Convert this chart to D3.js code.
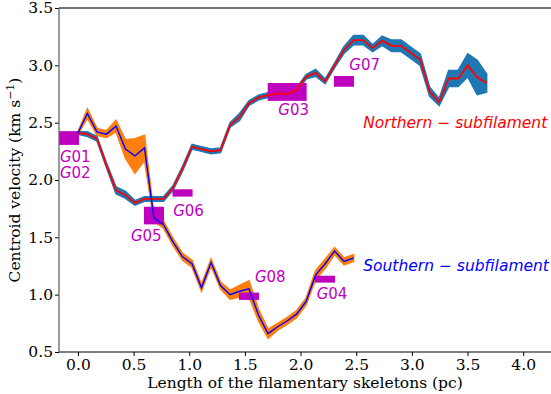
<!DOCTYPE html>
<html lang="en">
<head>
<meta charset="utf-8">
<title>Centroid velocity along the skeletons</title>
<script src="https://d3js.org/d3.v7.min.js"></script>
<style>
  body { margin: 0; background: #fff; }
  .tick text { font-family: "DejaVu Serif", serif; font-size: 15.5px; fill: #000; }
</style>
</head>
<body>
<script>
// southern sub-filament: position, centroid velocity, band half-width
const southX = [0.000, 0.085, 0.171, 0.256, 0.342, 0.427, 0.512, 0.598, 0.683, 0.769, 0.854, 0.940, 1.025, 1.110, 1.196,
                1.281, 1.367, 1.452, 1.537, 1.623, 1.708, 1.794, 1.879, 1.964, 2.050, 2.135, 2.221, 2.306, 2.391, 2.477];
const southV = [2.41, 2.58, 2.42, 2.40, 2.47, 2.27, 2.21, 2.28, 1.67, 1.61, 1.46, 1.33, 1.27, 1.06, 1.28,
                1.08, 1.00, 1.03, 1.05, 0.82, 0.66, 0.72, 0.77, 0.83, 0.94, 1.17, 1.27, 1.38, 1.29, 1.32];
const southE = [0.01, 0.04, 0.03, 0.03, 0.05, 0.08, 0.15, 0.11, 0.03, 0.03, 0.03, 0.03, 0.03, 0.03, 0.03,
                0.03, 0.04, 0.05, 0.07, 0.05, 0.04, 0.03, 0.03, 0.03, 0.03, 0.04, 0.04, 0.03, 0.03, 0.03];

// northern sub-filament
const northX = [0.000, 0.085, 0.171, 0.256, 0.342, 0.427, 0.512, 0.598, 0.683, 0.769, 0.854, 0.940, 1.025, 1.110, 1.196,
                1.281, 1.367, 1.452, 1.537, 1.623, 1.708, 1.794, 1.879, 1.964, 2.050, 2.135, 2.221, 2.306, 2.391, 2.477,
                2.562, 2.648, 2.733, 2.818, 2.904, 2.989, 3.075, 3.160, 3.245, 3.331, 3.416, 3.502, 3.587, 3.672];
const northV = [2.41, 2.40, 2.36, 2.13, 1.91, 1.87, 1.80, 1.835, 1.835, 1.835, 1.93, 2.10, 2.29, 2.27, 2.25,
                2.26, 2.48, 2.55, 2.67, 2.72, 2.74, 2.755, 2.75, 2.785, 2.90, 2.935, 2.86, 3.00, 3.135, 3.22,
                3.22, 3.15, 3.215, 3.17, 3.17, 3.11, 3.05, 2.77, 2.68, 2.885, 2.885, 3.00, 2.895, 2.845];
const northE = [0.01, 0.02, 0.02, 0.02, 0.03, 0.03, 0.02, 0.02, 0.02, 0.02, 0.02, 0.02, 0.02, 0.02, 0.02,
                0.02, 0.02, 0.03, 0.02, 0.02, 0.02, 0.02, 0.02, 0.02, 0.02, 0.03, 0.02, 0.02, 0.03, 0.04,
                0.04, 0.03, 0.04, 0.05, 0.05, 0.05, 0.05, 0.04, 0.03, 0.07, 0.07, 0.10, 0.15, 0.08];

// clumps G01..G08: centre, half-width in pc, half-height in km/s
const clumpX  = [-0.08, 0.683, 0.94, 1.88, 2.39, 1.537, 2.22];
const clumpXe = [0.09, 0.09, 0.09, 0.175, 0.09, 0.09, 0.09];
const clumpV  = [2.366, 1.69, 1.887, 2.768, 2.86, 0.986, 1.135];
const clumpVe = [0.06, 0.077, 0.032, 0.078, 0.047, 0.032, 0.03];

const clumpNames = ["01", "02", "05", "06", "03", "07", "08", "04"];
const clumpLabX  = [-0.162, -0.162, 0.476, 0.856, 1.80, 2.438, 1.59, 2.145];
const clumpLabY  = [2.157, 2.014, 1.464, 1.687, 2.563, 2.959, 1.107, 0.963];

const xTicks = [0.0, 0.5, 1.0, 1.5, 2.0, 2.5, 3.0, 3.5, 4.0];
const yTicks = [0.5, 1.0, 1.5, 2.0, 2.5, 3.0, 3.5];

const W = 551, H = 394;
const mL = 59, mR = 551, mT = 8, mB = 352;

const x = d3.scaleLinear().domain([-0.17, 4.25]).range([mL, mR]);
const y = d3.scaleLinear().domain([0.5, 3.5]).range([mB, mT]);

const svg = d3.select("body").append("svg")
    .attr("width", W)
    .attr("height", H);

svg.append("defs").append("clipPath").attr("id", "plot")
  .append("rect")
    .attr("x", mL).attr("y", mT)
    .attr("width", mR - mL).attr("height", mB - mT);

const plot = svg.append("g").attr("clip-path", "url(#plot)");

// shaded bands
function band(xs, vs, es) {
  return d3.area()
    .x(i => x(xs[i]))
    .y0(i => y(vs[i] - es[i]))
    .y1(i => y(vs[i] + es[i]))(d3.range(xs.length));
}
plot.append("path")
    .attr("d", band(southX, southV, southE))
    .attr("fill", "#ff7f0e")
    .attr("stroke", "#ff7f0e")
    .attr("stroke-width", 1.5);
plot.append("path")
    .attr("d", band(northX, northV, northE))
    .attr("fill", "#1f77b4")
    .attr("stroke", "#1f77b4")
    .attr("stroke-width", 1.5);

// clump boxes
const clumps = d3.range(clumpX.length);
plot.selectAll("rect.clump")
  .data(clumps)
  .enter()
  .append("rect")
    .attr("class", "clump")
    .attr("x", i => x(clumpX[i] - clumpXe[i]))
    .attr("width", i => x(clumpX[i] + clumpXe[i]) - x(clumpX[i] - clumpXe[i]))
    .attr("y", i => y(clumpV[i] + clumpVe[i]))
    .attr("height", i => y(clumpV[i] - clumpVe[i]) - y(clumpV[i] + clumpVe[i]))
    .attr("fill", "#bf00bf");

// centre lines
function line(xs, vs) {
  return d3.line().x(i => x(xs[i])).y(i => y(vs[i]))(d3.range(xs.length));
}
plot.append("path")
    .attr("d", line(northX, northV))
    .attr("fill", "none")
    .attr("stroke", "red")
    .attr("stroke-width", 1.8);
plot.append("path")
    .attr("d", line(southX, southV))
    .attr("fill", "none")
    .attr("stroke", "blue")
    .attr("stroke-width", 1.4);

// clump labels
const labels = svg.selectAll("text.clab")
  .data(clumpNames)
  .enter()
  .append("text")
    .attr("class", "clab")
    .attr("x", (d, i) => x(clumpLabX[i]))
    .attr("y", (d, i) => y(clumpLabY[i]))
    .attr("fill", "#bf00bf")
    .style("font-family", "DejaVu Sans")
    .style("font-size", "15px");
labels.append("tspan").style("font-style", "italic").text("G");
labels.append("tspan").text(d => d);

function subLabel(txt, xv, yv, col) {
  const t = svg.append("text")
      .attr("x", x(xv)).attr("y", y(yv))
      .attr("fill", col)
      .style("font-family", "DejaVu Sans")
      .style("font-size", "15.5px");
  t.append("tspan").style("font-style", "italic").text(txt);
  t.append("tspan").text(" \u2212 ");
  t.append("tspan").style("font-style", "italic").text("subfilament");
}
subLabel("Northern", 2.563, 2.454, "red");
subLabel("Southern", 2.563, 1.207, "blue");

// axes
svg.append("g")
    .attr("transform", "translate(0," + mB + ")")
    .call(d3.axisBottom(x).tickValues(xTicks).tickFormat(d3.format(".1f")).tickSize(4).tickPadding(3))
    .call(g => g.select(".domain").remove());
svg.append("g")
    .attr("transform", "translate(" + mL + ",0)")
    .call(d3.axisLeft(y).tickValues(yTicks).tickFormat(d3.format(".1f")).tickSize(4).tickPadding(2))
    .call(g => g.select(".domain").remove());

// spines
svg.append("line").attr("x1", mL).attr("x2", W).attr("y1", mB).attr("y2", mB)
    .attr("stroke", "#000").attr("stroke-width", 1);
svg.append("line").attr("x1", mL).attr("x2", W).attr("y1", mT).attr("y2", mT)
    .attr("stroke", "#444").attr("stroke-width", 1.3);
svg.append("line").attr("x1", mL).attr("x2", mL).attr("y1", mT).attr("y2", mB)
    .attr("stroke", "#666").attr("stroke-width", 1.3);

svg.append("text")
    .attr("x", (mL + mR) / 2)
    .attr("y", 388)
    .attr("text-anchor", "middle")
    .style("font-family", "DejaVu Serif")
    .style("font-size", "15.5px")
    .text("Length of the filamentary skeletons (pc)");

const yl = svg.append("text")
    .attr("transform", "translate(20," + (mT + mB) / 2 + ") rotate(-90)")
    .attr("text-anchor", "middle")
    .style("font-family", "DejaVu Serif")
    .style("font-size", "15.5px");
yl.append("tspan").text("Centroid velocity (km s");
yl.append("tspan").attr("dy", -6).style("font-size", "11px").text("\u22121");
yl.append("tspan").attr("dy", 6).text(")");
</script>
</body>
</html>
